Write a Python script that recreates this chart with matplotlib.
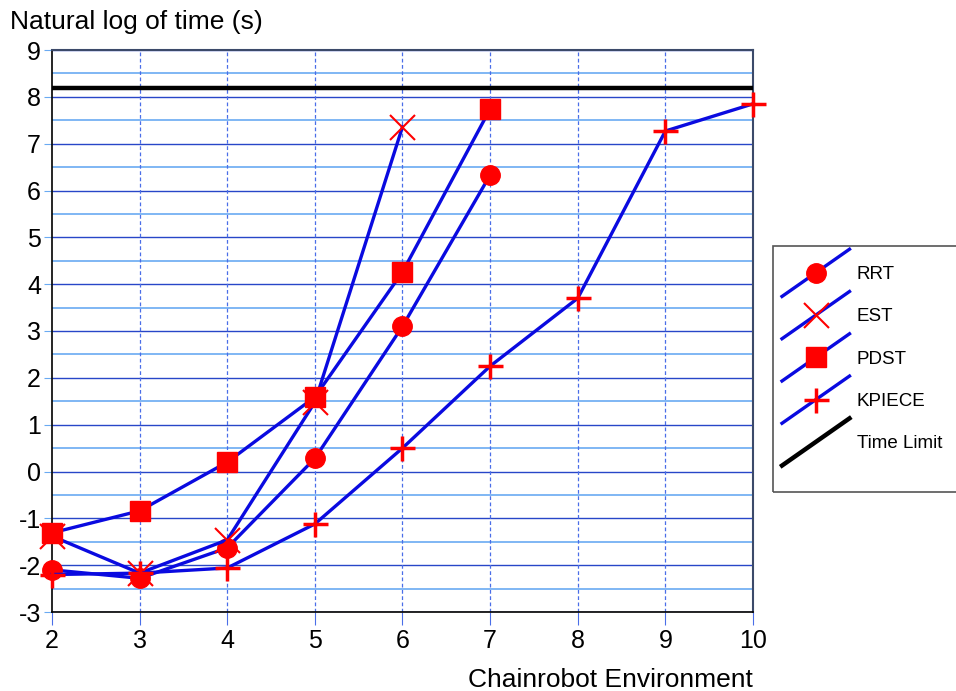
import numpy as np
import matplotlib
matplotlib.use("Agg")
import matplotlib.pyplot as plt
from matplotlib.lines import Line2D
from matplotlib.patches import Rectangle
from matplotlib.legend_handler import HandlerLine2D

plt.rcParams['font.family'] = ['Liberation Sans', 'DejaVu Sans']
plt.rcParams['axes.unicode_minus'] = False

# values
env_rrt = [2, 3, 4, 5, 6, 7]
rrt = [-2.1, -2.28, -1.63, 0.28, 3.1, 6.33]
env_est = [2, 3, 4, 5, 6]
est = [-1.38, -2.17, -1.46, 1.48, 7.36]
env_pdst = [2, 3, 4, 5, 6, 7]
pdst = [-1.31, -0.84, 0.2, 1.59, 4.26, 7.74]
env_kpiece = [2, 3, 4, 5, 6, 7, 8, 9, 10]
kpiece = [-2.2, -2.17, -2.06, -1.12, 0.5, 2.25, 3.7, 7.27, 7.85]
time_limit = np.log(3600)
x_ticks = list(range(2, 11))
y_ticks = list(range(-3, 10))


class DiagHandler(HandlerLine2D):
    # legend handle drawn as a rising diagonal line with the marker in the middle
    def create_artists(self, legend, orig_handle, xdescent, ydescent,
                       width, height, fontsize, trans):
        x0, x1 = -xdescent, width - xdescent
        ym = height / 2 - ydescent
        y0, y1 = ym - 17, ym + 17
        ln = Line2D([x0, x1], [y0, y1])
        self.update_prop(ln, orig_handle, legend)
        ln.set_marker('None')
        ln.set_transform(trans)
        mk = Line2D([(x0 + x1) / 2], [ym])
        self.update_prop(mk, orig_handle, legend)
        mk.set_linestyle('None')
        mk.set_transform(trans)
        return [ln, mk]


fig = plt.figure(figsize=(9.56, 6.91), dpi=100)
ax = fig.add_axes([52 / 956, 1 - 612 / 691, (753 - 52) / 956, (612 - 50) / 691])

# horizontal grid: integer lines darker, half lines lighter
for v in np.arange(-3, 9.01, 0.5):
    if abs(v - round(v)) < 1e-6:
        ax.axhline(v, color='#2846c8', lw=1.0, zorder=0)
    else:
        ax.axhline(v, color='#6aaaf2', lw=1.2, zorder=0)
for v in x_ticks[1:-1]:
    ax.axvline(v, color='#4a6ee8', lw=0.9, ls=(0, (3, 2)), zorder=0)

blue = '#0a0ae0'
red = '#ff0000'
ax.plot(env_rrt, rrt, color=blue, lw=2.4, marker='o', ms=14,
        mfc=red, mec=red, label='RRT', zorder=3, clip_on=False)
ax.plot(env_est, est, color=blue, lw=2.4, marker='x', ms=18,
        mfc=red, mec=red, mew=1.5, label='EST', zorder=3, clip_on=False)
ax.plot(env_pdst, pdst, color=blue, lw=2.4, marker='s', ms=14,
        mfc=red, mec=red, label='PDST', zorder=3, clip_on=False)
ax.plot(env_kpiece, kpiece, color=blue, lw=2.4, marker='+', ms=18,
        mfc=red, mec=red, mew=2.5, label='KPIECE', zorder=3, clip_on=False)
ax.plot([2, 10], [time_limit, time_limit], color='black', lw=3.2,
        label='Time Limit', zorder=4)

ax.set_xlim(2, 10)
ax.set_ylim(-3, 9)
ax.set_xticks(x_ticks)
ax.set_yticks(y_ticks)
ax.tick_params(axis='both', labelsize=18, direction='out')
ax.tick_params(axis='x', length=9, color='#4a6ee8', pad=3)
ax.tick_params(axis='y', length=6, color='#6aaaf2', pad=2)
for side in ['left', 'bottom']:
    ax.spines[side].set_color('black')
    ax.spines[side].set_linewidth(1.2)
for side in ['top', 'right']:
    ax.spines[side].set_color('#3c4a6a')
    ax.spines[side].set_linewidth(1.5)

fig.text(10 / 956, 1 - 22 / 691, 'Natural log of time (s)', fontsize=19,
         va='center', ha='left')
fig.text(753 / 956, 1 - 680 / 691, 'Chainrobot Environment', fontsize=19,
         va='center', ha='right')

# legend box
fig.patches.append(Rectangle((773 / 956, 1 - 492 / 691), 0.3, (492 - 246) / 691,
                             transform=fig.transFigure, fill=False,
                             edgecolor='#555555', lw=1.2))
handles, labels = ax.get_legend_handles_labels()
fig.legend(handles, labels, loc='upper left',
           bbox_to_anchor=(782 / 956, 1 - 262 / 691),
           frameon=False, fontsize=13.5, handlelength=3.6, handleheight=1.4,
           labelspacing=1.1, handletextpad=0.4, borderpad=0, borderaxespad=0,
           handler_map={Line2D: DiagHandler()})

fig.savefig('out.png', dpi=100)
